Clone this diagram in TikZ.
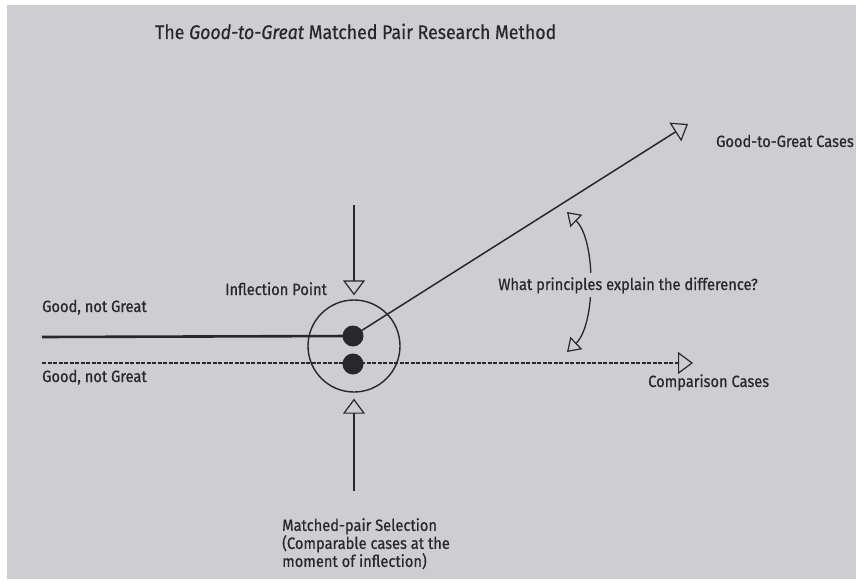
\documentclass[tikz,border=0pt]{standalone}
\usepackage{fontspec}
\setmainfont{Fira Sans}[FakeStretch=0.9, FakeBold=0.6]
\usetikzlibrary{arrows.meta}
\definecolor{bg}{RGB}{205,205,210}
\definecolor{ink}{RGB}{40,40,44}
\tikzset{
  lbl/.style={inner sep=0pt, text=ink, font=\fontsize{16.3}{18}\selectfont, anchor=base west},
  ln/.style={draw=ink, line width=1.5pt},
  openhead/.style={-{Triangle[open, width=22pt, length=15pt, line width=1.2pt]}},
  smallhead/.style={{Triangle[open, width=17pt, length=13pt, line width=1.2pt]}-{Triangle[open, width=17pt, length=13pt, line width=1.2pt]}},
  dot/.style={circle, fill=ink, inner sep=0pt, minimum size=21pt}
}
\begin{document}
\begin{tikzpicture}[x=1pt, y=-1pt]
\useasboundingbox (0,0) rectangle (856,583);
\fill[white] (0,0) rectangle (856,583);
\fill[bg] (7,5) rectangle (856,579);

% title
\node[lbl, font=\fontsize{19.7}{22}\selectfont] (title) at (155,39) {The \textit{Good-to-Great} Matched Pair Research Method};

% lines
\coordinate (l1) at (42,337);
\coordinate (l2) at (42,363);
\coordinate (tc) at (693,363);
\coordinate (tg) at (688,124);
\coordinate (vt) at (354,205);
\coordinate (vb) at (354,491);

\draw[draw=ink, line width=1.2pt, dash pattern=on 4pt off 1.5pt, openhead] (l2) -- (tc);
\node[circle, draw=ink, line width=1.4pt, minimum size=92pt, inner sep=0pt] (c) at (354,346) {};
\node[dot] (d1) at (353,336) {};
\node[dot] (d2) at (353,364) {};
\draw[ln, line width=2.6pt] (l1) -- (d1.center);
\draw[ln, openhead] (d1.center) -- (tg);
\draw[ln, openhead, shorten >=4pt] (vt) -- (c.north);
\draw[ln, openhead, shorten >=6pt] (vb) -- (c.south);

% curved double arrow
\coordinate (q1) at (567,212);
\coordinate (q2) at (567,352);
\draw[ln, line width=1.3pt, smallhead] (q1) .. controls (596,240) and (596,324) .. (q2);

% labels
\node[lbl, fill=bg, inner sep=4pt, anchor=base] (why) at (628,290) {What principles explain the difference?};
\node[lbl] (gng1) at (42,312) {Good, not Great};
\node[lbl] (gng2) at (42,382) {Good, not Great};
\node[lbl] (ip) at (225,295) {Inflection Point};
\node[lbl, anchor=base east] (ggc) at (854,147) {Good-to-Great Cases};
\node[lbl] (cc) at (648,387) {Comparison Cases};
\node[lbl, anchor=north west, align=left] (mps) at (282,518) {Matched-pair Selection\\(Comparable cases at the\\moment of inflection)};
\end{tikzpicture}
\end{document}
